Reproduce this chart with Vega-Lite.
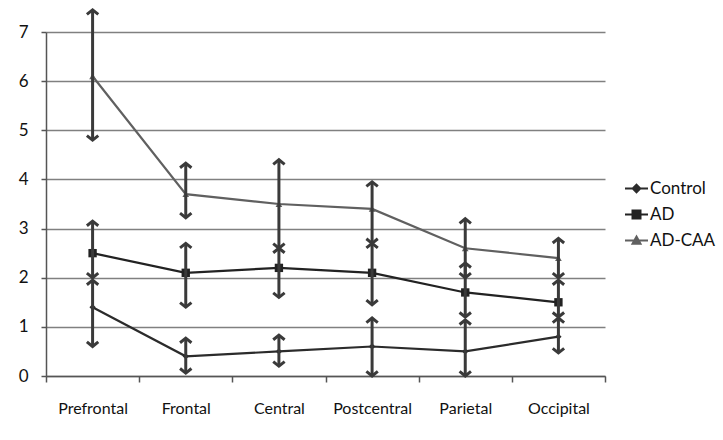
{
  "$schema": "https://vega.github.io/schema/vega-lite/v6.json",
  "width": 559,
  "height": 344,
  "autosize": "none",
  "padding": {"left": 46, "top": 32, "right": 118, "bottom": 64},
  "background": "white",
  "config": {
    "font": "Lato",
    "view": {"stroke": null},
    "axis": {"labelFont": "Lato", "labelFontSize": 16, "labelColor": "#111111", "title": null},
    "legend": {
      "title": null,
      "orient": "none",
      "legendX": 582,
      "legendY": 148,
      "padding": 0,
      "symbolSize": 100,
      "symbolStrokeWidth": 2,
      "labelOffset": 5,
      "labelFont": "Lato",
      "labelFontSize": 17,
      "labelColor": "#111111",
      "rowPadding": 8
    }
  },
  "data": {
    "values": [
      {"region": "Prefrontal", "series": "Control", "value": 1.4, "lo": 0.6, "hi": 1.95},
      {"region": "Frontal", "series": "Control", "value": 0.4, "lo": 0.06, "hi": 0.77},
      {"region": "Central", "series": "Control", "value": 0.5, "lo": 0.2, "hi": 0.83},
      {"region": "Postcentral", "series": "Control", "value": 0.6, "lo": 0.0, "hi": 1.18},
      {"region": "Parietal", "series": "Control", "value": 0.5, "lo": 0.0, "hi": 1.14},
      {"region": "Occipital", "series": "Control", "value": 0.8, "lo": 0.47, "hi": 1.18},
      {"region": "Prefrontal", "series": "AD", "value": 2.5, "lo": 2.0, "hi": 3.15},
      {"region": "Frontal", "series": "AD", "value": 2.1, "lo": 1.4, "hi": 2.7},
      {"region": "Central", "series": "AD", "value": 2.2, "lo": 1.6, "hi": 2.6},
      {"region": "Postcentral", "series": "AD", "value": 2.1, "lo": 1.45, "hi": 2.7},
      {"region": "Parietal", "series": "AD", "value": 1.7, "lo": 1.2, "hi": 2.3},
      {"region": "Occipital", "series": "AD", "value": 1.5, "lo": 1.2, "hi": 1.95},
      {"region": "Prefrontal", "series": "AD-CAA", "value": 6.1, "lo": 4.8, "hi": 7.45},
      {"region": "Frontal", "series": "AD-CAA", "value": 3.7, "lo": 3.22, "hi": 4.33},
      {"region": "Central", "series": "AD-CAA", "value": 3.5, "lo": 2.6, "hi": 4.4},
      {"region": "Postcentral", "series": "AD-CAA", "value": 3.4, "lo": 2.7, "hi": 3.95},
      {"region": "Parietal", "series": "AD-CAA", "value": 2.6, "lo": 2.0, "hi": 3.2},
      {"region": "Occipital", "series": "AD-CAA", "value": 2.4, "lo": 2.0, "hi": 2.8}
    ]
  },
  "encoding": {
    "x": {
      "field": "region",
      "type": "nominal",
      "sort": ["Prefrontal", "Frontal", "Central", "Postcentral", "Parietal", "Occipital"],
      "scale": {"type": "band", "paddingInner": 0, "paddingOuter": 0},
      "axis": {
        "labelAngle": 0,
        "tickBand": "extent",
        "tickSize": 6,
        "tickColor": "#555555",
        "tickWidth": 1.5,
        "domainColor": "#555555",
        "domainWidth": 1.5,
        "labelPadding": 18,
        "grid": false
      }
    }
  },
  "layer": [
    {
      "mark": {"type": "line", "strokeWidth": 2.2},
      "encoding": {
        "y": {
          "field": "value",
          "type": "quantitative",
          "scale": {"domain": [0, 7], "nice": false},
          "axis": {
            "values": [0, 1, 2, 3, 4, 5, 6, 7],
            "format": "d",
            "grid": true,
            "gridColor": "#808080",
            "gridWidth": 1.5,
            "tickSize": 5,
            "tickColor": "#555555",
            "tickWidth": 1.5,
            "domainColor": "#555555",
            "domainWidth": 1.5,
            "labelPadding": 13,
            "labelFontSize": 17
          }
        },
        "color": {
          "field": "series",
          "type": "nominal",
          "scale": {"domain": ["Control", "AD", "AD-CAA"], "range": ["#2b2b2b", "#222222", "#606060"]}
        }
      }
    },
    {
      "transform": [{"filter": "datum.series == 'Control'"}],
      "mark": {"type": "point", "filled": true, "opacity": 1, "shape": "diamond", "size": 40, "color": "#2b2b2b"},
      "encoding": {"y": {"field": "value", "type": "quantitative"}}
    },
    {
      "transform": [{"filter": "datum.series == 'AD'"}],
      "mark": {"type": "point", "filled": true, "opacity": 1, "shape": "square", "size": 70, "color": "#222222"},
      "encoding": {"y": {"field": "value", "type": "quantitative"}}
    },
    {
      "transform": [{"filter": "datum.series == 'AD-CAA'"}],
      "mark": {"type": "point", "filled": true, "opacity": 1, "shape": "triangle-up", "size": 45, "color": "#606060"},
      "encoding": {"y": {"field": "value", "type": "quantitative"}}
    },
    {
      "mark": {"type": "point", "filled": true, "opacity": 1, "size": 0},
      "encoding": {
        "y": {"field": "value", "type": "quantitative"},
        "color": {"field": "series", "type": "nominal"},
        "stroke": {
          "field": "series",
          "type": "nominal",
          "scale": {"domain": ["Control", "AD", "AD-CAA"], "range": ["#2b2b2b", "#222222", "#606060"]}
        },
        "shape": {
          "field": "series",
          "type": "nominal",
          "scale": {
            "domain": ["Control", "AD", "AD-CAA"],
            "range": [
              "M -2.3 0 L 2.3 0 M 0 -0.75 L 0.75 0 L 0 0.75 L -0.75 0 Z",
              "M -2.3 0 L 2.3 0 M -0.8 -0.8 L 0.8 -0.8 L 0.8 0.8 L -0.8 0.8 Z",
              "M -2.3 0 L 2.3 0 M 0 -0.8 L 0.8 0.65 L -0.8 0.65 Z"
            ]
          }
        }
      }
    },
    {
      "mark": {"type": "rule", "strokeWidth": 3, "color": "#3a3a3a"},
      "encoding": {
        "y": {"field": "lo", "type": "quantitative"},
        "y2": {"field": "hi"}
      }
    },
    {
      "mark": {"type": "point", "shape": "M -1 0.8 L 0 0 L 1 0.8", "filled": false, "strokeWidth": 3, "color": "#3a3a3a", "size": 130, "opacity": 1},
      "encoding": {"y": {"field": "hi", "type": "quantitative"}}
    },
    {
      "mark": {"type": "point", "shape": "M -1 -0.8 L 0 0 L 1 -0.8", "filled": false, "strokeWidth": 3, "color": "#3a3a3a", "size": 130, "opacity": 1},
      "encoding": {"y": {"field": "lo", "type": "quantitative"}}
    }
  ]
}
